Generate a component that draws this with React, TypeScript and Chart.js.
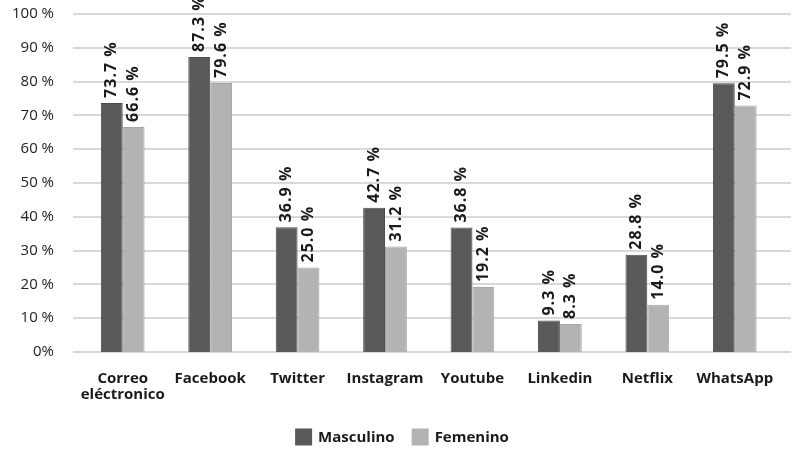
import React, { useEffect, useRef } from "react";
import { Chart, registerables } from "chart.js";

Chart.register(...registerables);

const categories: (string | string[])[] = [
  ["Correo", "eléctronico"],
  "Facebook",
  "Twitter",
  "Instagram",
  "Youtube",
  "Linkedin",
  "Netflix",
  "WhatsApp",
];
const masculino = [73.7, 87.3, 36.9, 42.7, 36.8, 9.3, 28.8, 79.5];
const femenino = [66.6, 79.6, 25.0, 31.2, 19.2, 8.3, 14.0, 72.9];
const seriesNames = ["Masculino", "Femenino"];
const seriesColors = ["#595959", "#b3b3b3"];

const FONT = "'Open Sans', 'DejaVu Sans', sans-serif";

// horizontal gridlines that run a little past the category area, as in the original
const gridLines = {
  id: "gridLines",
  beforeDatasetsDraw(chart: any) {
    const ctx = chart.ctx;
    const y = chart.scales.y;
    ctx.save();
    ctx.strokeStyle = "#d9d9d9";
    ctx.lineWidth = 2;
    y.ticks.forEach((t: any) => {
      const py = Math.round(y.getPixelForValue(t.value));
      ctx.beginPath();
      ctx.moveTo(73, py);
      ctx.lineTo(791, py);
      ctx.stroke();
    });
    ctx.restore();
  },
};

const valueLabels = {
  id: "valueLabels",
  afterDatasetsDraw(chart: any) {
    const ctx = chart.ctx;
    ctx.save();
    ctx.font = `bold 16px ${FONT}`;
    (ctx as any).letterSpacing = "1px";
    ctx.fillStyle = "#1a1a1a";
    chart.data.datasets.forEach((ds: any, di: number) => {
      const meta = chart.getDatasetMeta(di);
      meta.data.forEach((el: any, i: number) => {
        const v = ds.data[i] as number;
        ctx.save();
        ctx.translate(el.x, el.y - 5);
        ctx.rotate(-Math.PI / 2);
        ctx.textAlign = "left";
        ctx.textBaseline = "middle";
        ctx.fillText(v.toFixed(1) + " %", 0, 0);
        ctx.restore();
      });
    });
    ctx.restore();
  },
};

// legend centred like the original (slightly right of the canvas centre)
const customLegend = {
  id: "customLegend",
  afterDraw(chart: any) {
    const ctx = chart.ctx;
    ctx.save();
    ctx.font = `bold 15px ${FONT}`;
    const box = 17;
    const gapText = 6;
    const gapItem = 17;
    const items = chart.data.datasets.map((ds: any) => ({
      label: ds.label,
      color: ds.backgroundColor,
      w: ctx.measureText(ds.label).width,
    }));
    let total = 0;
    items.forEach((it: any, i: number) => {
      total += box + gapText + it.w + (i < items.length - 1 ? gapItem : 0);
    });
    let x = 402 - total / 2;
    const cy = 437;
    items.forEach((it: any) => {
      ctx.fillStyle = it.color;
      ctx.fillRect(x, cy - box / 2, box, box);
      ctx.fillStyle = "#1a1a1a";
      ctx.textAlign = "left";
      ctx.textBaseline = "middle";
      ctx.fillText(it.label, x + box + gapText, cy + 1);
      x += box + gapText + it.w + gapItem;
    });
    ctx.restore();
  },
};

export default function App() {
  const ref = useRef<HTMLCanvasElement>(null);
  useEffect(() => {
    document.body.style.margin = "0";
    const chart = new Chart(ref.current!, {
      type: "bar",
      data: {
        labels: categories,
        datasets: [
          {
            label: seriesNames[0],
            data: masculino,
            backgroundColor: seriesColors[0],
            borderColor: "#4d4d4d",
            borderWidth: 1,
            categoryPercentage: 0.5,
            barPercentage: 1.0,
          },
          {
            label: seriesNames[1],
            data: femenino,
            backgroundColor: seriesColors[1],
            borderColor: "#a8a8a8",
            borderWidth: 1,
            categoryPercentage: 0.5,
            barPercentage: 1.0,
          },
        ],
      },
      options: {
        animation: false,
        responsive: false,
        maintainAspectRatio: false,
        layout: { padding: { top: 14, right: 14, left: 0, bottom: 48 } },
        scales: {
          y: {
            min: 0,
            max: 100,
            afterFit: (s: any) => {
              s.width = 79;
              s.paddingTop = 0;
              s.paddingBottom = 0;
            },
            ticks: {
              stepSize: 10,
              color: "#222",
              font: { family: FONT, size: 15 },
              padding: 25,
              callback: (v: any) => (v === 0 ? "0%" : v + " %"),
            },
            grid: { display: false, drawTicks: false },
            border: { display: false },
          },
          x: {
            afterFit: (s: any) => {
              s.height = 50;
            },
            ticks: {
              color: "#1a1a1a",
              font: { family: FONT, size: 15, weight: "bold", lineHeight: 1.07 },
              padding: 19,
              maxRotation: 0,
              autoSkip: false,
            },
            grid: { display: false, drawTicks: false },
            border: { display: false },
          },
        },
        plugins: {
          legend: { display: false },
          tooltip: { enabled: false },
        },
      },
      plugins: [gridLines, valueLabels, customLegend],
    });
    return () => chart.destroy();
  }, []);
  return (
    <div style={{ width: 793, height: 450 }}>
      <canvas ref={ref} width={793} height={450} />
    </div>
  );
}
